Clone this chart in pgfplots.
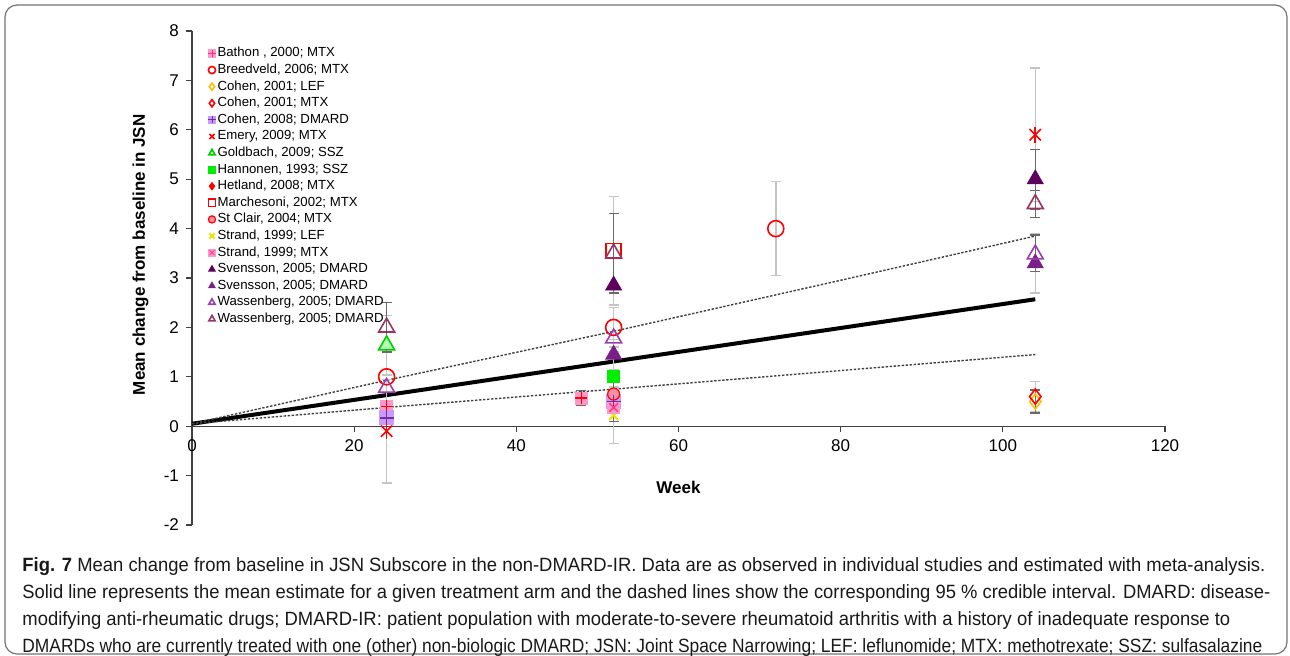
\documentclass[border=0pt]{standalone}
\usepackage{graphicx}
\usepackage{pgfplots}
\pgfplotsset{compat=1.18}
\usepackage{fontspec}
\setmainfont{Liberation Sans}
\newfontfamily\capfont[FakeStretch=0.9]{Liberation Sans}
\definecolor{eblight}{HTML}{C4C4C4}
\definecolor{ebdark}{HTML}{6A6A6A}
\definecolor{cpink}{HTML}{FF99CC}
\definecolor{cpinkd}{HTML}{FF3380}
\definecolor{cred}{HTML}{FF0000}
\definecolor{cyel}{HTML}{FFC000}
\definecolor{cyel2}{HTML}{F2E000}
\definecolor{clav}{HTML}{CC99FF}
\definecolor{cpurp}{HTML}{7030A0}
\definecolor{cgreen}{HTML}{00CC00}
\definecolor{cgreenl}{HTML}{B3FFB3}
\definecolor{cgreenb}{HTML}{00EE00}
\definecolor{cstc}{HTML}{FF8FA8}
\definecolor{svone}{HTML}{5E005E}
\definecolor{svtwo}{HTML}{7A1F8A}
\definecolor{waone}{HTML}{9B3DB0}
\definecolor{watwo}{HTML}{993366}
\pgfplotsset{
  ebl/.style={draw=none, mark=none, forget plot, error bars/.cd, y dir=both, y explicit,
    error bar style={draw=eblight, line width=0.7pt},
    error mark options={draw=eblight, mark size=2.5pt, line width=0.7pt, rotate=90}},
  ebd/.style={draw=none, mark=none, forget plot, error bars/.cd, y dir=both, y explicit,
    error bar style={draw=ebdark, line width=0.7pt},
    error mark options={draw=ebdark, mark size=2.5pt, line width=0.7pt, rotate=90}},
}
\newcommand\capline[2]{\resizebox{#1}{\height}{#2}}
\begin{document}
\begin{tikzpicture}
\path[use as bounding box] (0pt,0pt) rectangle (645pt,-327.5pt);
\draw[black!55, line width=0.6pt, rounded corners=6pt] (2.5pt,-2.5pt) rectangle (643.5pt,-327pt);
\begin{axis}[
  at={(96pt,-262.5pt)}, anchor=south west,
  scale only axis, width=486.5pt, height=247pt,
  xmin=0, xmax=120, ymin=-2, ymax=8,
  axis x line*=middle, axis y line*=left,
  xtick={0,20,...,120}, ytick={-2,-1,...,8},
  hide obscured x ticks=false, hide obscured y ticks=false,
  tick align=outside, major tick length=3pt,
  tick style={black!75, line width=0.6pt},
  axis line style={black!75, line width=0.6pt},
  tick label style={font=\fontsize{8.5}{10}\selectfont},
  /pgf/number format/assume math mode=true,
  xlabel={\textbf{Week}}, ylabel={\textbf{Mean change from baseline in JSN}},
  label style={font=\fontsize{8.5}{10}\selectfont},
  xlabel style={at={(axis description cs:0.5,0.077)}, anchor=center},
  ylabel style={at={(axis description cs:-0.053,0.547)}, anchor=center},
  clip=false,
  legend cell align=left,
  legend style={draw=none, fill=none, at={(axis cs:2.02,7.69)}, anchor=north west,
    inner sep=0pt, outer sep=0pt, row sep=1.2pt,
    font=\fontsize{6.6}{7}\selectfont,
    nodes={inner sep=0.4pt, text height=4.9pt, text depth=1.4pt},
    /tikz/every odd column/.append style={column sep=0.6pt}},
  legend image code/.code={\draw[#1, mark size=1.8pt, line width=0.5pt] plot coordinates {(0pt,0pt)};},
]
% model lines
\addplot[black, line width=2pt, forget plot] coordinates {(0,0.05) (24,0.63) (52,1.31) (78,1.94) (104,2.57)};
\addplot[black!75, line width=0.7pt, dash pattern=on 1.2pt off 0.8pt, forget plot] coordinates {(0,0.05) (24,0.93) (52,1.92) (78,2.88) (104,3.85)};
\addplot[black!75, line width=0.7pt, dash pattern=on 1.2pt off 0.8pt, forget plot] coordinates {(0,0.05) (24,0.38) (52,0.75) (78,1.10) (104,1.45)};
% error bars
\addplot[ebl] coordinates {(24,-0.1) +- (0,1.05) (24,1.64) +- (0,0.6) (52,3.55) +- (0,1.1) (52,2.0) +- (0,0.4) (52,1.0) +- (0,0.5) (52,1.45) +- (0,0.3) (52,0.22) +- (0,0.57) (72,4.0) +- (0,0.95) (104,5.9) +- (0,1.35) (104,3.3) +- (0,0.6) (104,0.6) +- (0,0.3)};
\addplot[ebd] coordinates {(24,2.0) +- (0,0.5) (48,0.57) +- (0,0.15) (52,3.5) +- (0,0.8) (52,0.5) +- (0,0.4) (104,5.0) +- (0,0.6) (104,3.5) +- (0,0.37) (104,4.5) +- (0,0.27) (104,0.5) +- (0,0.23)};
% series
\addplot[only marks, mark=square*, mark size=3pt, mark options={fill=cpink, draw=cpink},
  legend image code/.code={\draw[only marks, mark=square*, mark options={fill=cpink, draw=cpink}, mark size=1.8pt] plot coordinates {(0pt,0pt)}; \draw[only marks, mark=+, mark options={draw=cpinkd}, mark size=1.8pt] plot coordinates {(0pt,0pt)};}]
  coordinates {(24,0.4) (48,0.57)};
\addlegendentry{Bathon , 2000; MTX}
\addplot[only marks, mark=o, mark size=4pt, mark options={draw=cred, line width=0.8pt}] coordinates {(24,1.0) (52,2.0) (72,4.0)};
\addlegendentry{Breedveld, 2006; MTX}
\addplot[only marks, mark=diamond, mark size=3.8pt, mark options={draw=cyel, line width=0.8pt}] coordinates {(104,0.5)};
\addlegendentry{Cohen, 2001; LEF}
\addplot[only marks, mark=diamond, mark size=3.8pt, mark options={draw=cred, line width=0.8pt}] coordinates {(104,0.6)};
\addlegendentry{Cohen, 2001; MTX}
\addplot[only marks, mark=square*, mark size=3.5pt, mark options={fill=clav, draw=clav},
  legend image code/.code={\draw[only marks, mark=square*, mark options={fill=clav, draw=clav}, mark size=1.8pt] plot coordinates {(0pt,0pt)}; \draw[only marks, mark=+, mark options={draw=cpurp}, mark size=1.8pt] plot coordinates {(0pt,0pt)};}]
  coordinates {(24,0.17) (52,0.5)};
\addlegendentry{Cohen, 2008; DMARD}
\addplot[only marks, mark=x, mark size=4pt, mark options={draw=cred, line width=0.8pt}] coordinates {(24,-0.1) (104,5.9)};
\addlegendentry{Emery, 2009; MTX}
\addplot[only marks, mark=triangle*, mark size=4.6pt, mark options={draw=cgreen, fill=cgreenl, line width=0.8pt}] coordinates {(24,1.64)};
\addlegendentry{Goldbach, 2009; SSZ}
\addplot[only marks, mark=square*, mark size=3pt, mark options={draw=cgreenb, fill=cgreenb}] coordinates {(52,1.0)};
\addlegendentry{Hannonen, 1993; SSZ}
\addplot[only marks, mark=diamond*, mark size=2.6pt, mark options={draw=cred, fill=cred}] coordinates {(52,0.33)};
\addlegendentry{Hetland, 2008; MTX}
\addplot[only marks, mark=square, mark size=3.75pt, mark options={draw=cred, line width=0.8pt}] coordinates {(52,3.55)};
\addlegendentry{Marchesoni, 2002; MTX}
\addplot[only marks, mark=*, mark size=3pt, mark options={draw=cred, fill=cstc, line width=0.6pt}] coordinates {(52,0.65)};
\addlegendentry{St Clair, 2004; MTX}
\addplot[only marks, mark=x, mark size=3.2pt, mark options={draw=cyel2, line width=1pt}] coordinates {(52,0.22)};
\addlegendentry{Strand, 1999; LEF}
\addplot[only marks, mark=square*, mark size=3pt, mark options={fill=cpink, draw=cpink},
  legend image code/.code={\draw[only marks, mark=square*, mark options={fill=cpink, draw=cpink}, mark size=1.8pt] plot coordinates {(0pt,0pt)}; \draw[only marks, mark=x, mark options={draw=cpinkd}, mark size=1.8pt] plot coordinates {(0pt,0pt)};}]
  coordinates {(52,0.38)};
\addlegendentry{Strand, 1999; MTX}
\addplot[only marks, mark=triangle*, mark size=4.6pt, mark options={draw=svone, fill=svone}] coordinates {(52,2.85) (104,5.0)};
\addlegendentry{Svensson, 2005; DMARD}
\addplot[only marks, mark=triangle*, mark size=4.6pt, mark options={draw=svtwo, fill=svtwo}] coordinates {(52,1.45) (104,3.3)};
\addlegendentry{Svensson, 2005; DMARD}
\addplot[only marks, mark=triangle, mark size=4.6pt, mark options={draw=waone, line width=0.8pt}] coordinates {(24,0.78) (52,1.78) (104,3.48)};
\addlegendentry{Wassenberg, 2005; DMARD}
\addplot[only marks, mark=triangle, mark size=4.6pt, mark options={draw=watwo, line width=0.8pt}] coordinates {(24,2.0) (52,3.5) (104,4.5)};
\addlegendentry{Wassenberg, 2005; DMARD}
% overlays
\addplot[only marks, forget plot, mark=+, mark size=3pt, mark options={draw=cred, line width=0.7pt}] coordinates {(24,0.4) (48,0.57)};
\addplot[only marks, forget plot, mark=+, mark size=3.5pt, mark options={draw=cpurp, line width=0.7pt}] coordinates {(24,0.17) (52,0.5)};
\addplot[only marks, forget plot, mark=x, mark size=3pt, mark options={draw=cpinkd, line width=0.7pt}] coordinates {(52,0.38)};
\addplot[only marks, forget plot, mark=|, mark size=4pt, mark options={draw=cred, line width=0.8pt}] coordinates {(24,-0.1) (104,5.9)};
\end{axis}
\begin{scope}[every node/.style={anchor=base west, inner sep=0pt, font=\capfont\fontsize{9.6}{12}\selectfont, text=black!90}]
\node at (11pt,-285.5pt) {\capline{621.5pt}{\textbf{Fig. 7} Mean change from baseline in JSN Subscore in the non-DMARD-IR. Data are as observed in individual studies and estimated with meta-analysis.}};
\node at (11pt,-299.0pt) {\capline{624pt}{Solid line represents the mean estimate for a given treatment arm and the dashed lines show the corresponding 95 \% credible interval. DMARD: disease-}};
\node at (11pt,-312.5pt) {\capline{604pt}{modifying anti-rheumatic drugs; DMARD-IR: patient population with moderate-to-severe rheumatoid arthritis with a history of inadequate response to}};
\node at (11pt,-326.0pt) {\capline{620pt}{DMARDs who are currently treated with one (other) non-biologic DMARD; JSN: Joint Space Narrowing; LEF: leflunomide; MTX: methotrexate; SSZ: sulfasalazine}};
\end{scope}
\end{tikzpicture}
\end{document}
